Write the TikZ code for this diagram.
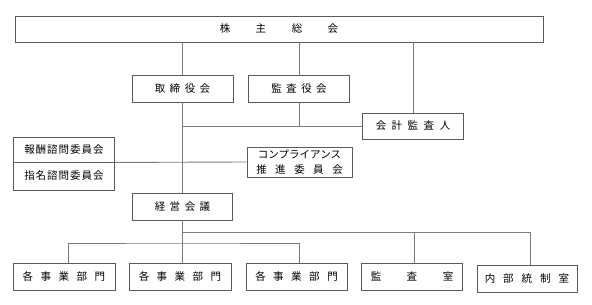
\documentclass[tikz,border=0pt]{standalone}
\usepackage{fontspec}
\setmainfont{Noto Sans CJK JP}
\definecolor{boxline}{HTML}{5A5A5A}
\definecolor{linkline}{HTML}{7A7A7A}
\newcommand{\jsp}[1]{\hspace{#1pt}}
\begin{document}
\begin{tikzpicture}[
  x=1pt, y=-1pt,
  box/.style={draw=boxline, line width=0.9pt, inner sep=0pt, minimum height=27pt, minimum width=101pt, align=center, font=\fontsize{10.5pt}{15pt}\selectfont},
  link/.style={draw=linkline, line width=0.9pt}
]
\useasboundingbox (0,0) rectangle (592,305);
% top
\node[box, minimum width=528pt, minimum height=26pt] (meeting) at (279,29) {株\jsp{25.5}主\jsp{25.5}総\jsp{25.5}会};
\node[box] (board) at (182.5,88.5) {取\jsp{4.5}締\jsp{4.5}役\jsp{4.5}会};
\node[box] (auditors) at (299,88.5) {監\jsp{4.5}査\jsp{4.5}役\jsp{4.5}会};
\node[box, minimum height=26pt] (accountant) at (413,126) {会\jsp{5.5}計\jsp{5.5}監\jsp{5.5}査\jsp{5.5}人};
% committees
\node[box, minimum height=25pt] (reward) at (64,149.5) {報\jsp{1}酬\jsp{1}諮\jsp{1}問\jsp{1}委\jsp{1}員\jsp{1}会};
\node[box, minimum height=28pt] (nominate) at (64,176) {指\jsp{1}名\jsp{1}諮\jsp{1}問\jsp{1}委\jsp{1}員\jsp{1}会};
\node[box, minimum width=105pt, minimum height=30pt] (compliance) at (299.5,162) {コンプライアンス\\推\jsp{8.5}進\jsp{8.5}委\jsp{8.5}員\jsp{8.5}会};
\node[box, minimum width=100pt] (mgmt) at (182.5,206.5) {経\jsp{4.5}営\jsp{4.5}会\jsp{4.5}議};
% bottom row
\node[box, minimum width=102pt] (div1) at (64,276.5) {各\jsp{7.5}事\jsp{7.5}業\jsp{7.5}部\jsp{7.5}門};
\node[box, minimum width=102pt] (div2) at (180,276.5) {各\jsp{7.5}事\jsp{7.5}業\jsp{7.5}部\jsp{7.5}門};
\node[box] (div3) at (296.5,276.5) {各\jsp{7.5}事\jsp{7.5}業\jsp{7.5}部\jsp{7.5}門};
\node[box] (auditroom) at (412,276.5) {監\jsp{25.5}査\jsp{25.5}室};
\node[box, minimum width=100pt] (control) at (527,278.5) {内\jsp{8}部\jsp{8}統\jsp{8}制\jsp{8}室};
\coordinate (bus1) at (182.5,232);
\coordinate (bus2) at (182.5,243);
% connectors
\draw[link] (meeting.south -| board.north) -- (board.north);
\draw[link] (meeting.south -| auditors.north) -- (auditors.north);
\draw[link] (meeting.south -| accountant.north) -- (accountant.north);
\draw[link] (board.south) -- (mgmt.north);
\draw[link] (auditors.south) -- (auditors.south |- accountant.west);
\draw[link] (board.south |- accountant.west) -- (accountant.west);
\draw[link] (reward.south east) -- (compliance.west);
\draw[link] (mgmt.south) -- (mgmt.south |- div2.north);
\draw[link] ([xshift=4pt]div1.north) |- (bus2) -| ([xshift=2.5pt]div3.north);
\draw[link] (bus1) -| ([xshift=2pt]auditroom.north);
\draw[link] (bus1) -| ([xshift=3pt]control.north);
\end{tikzpicture}
\end{document}
